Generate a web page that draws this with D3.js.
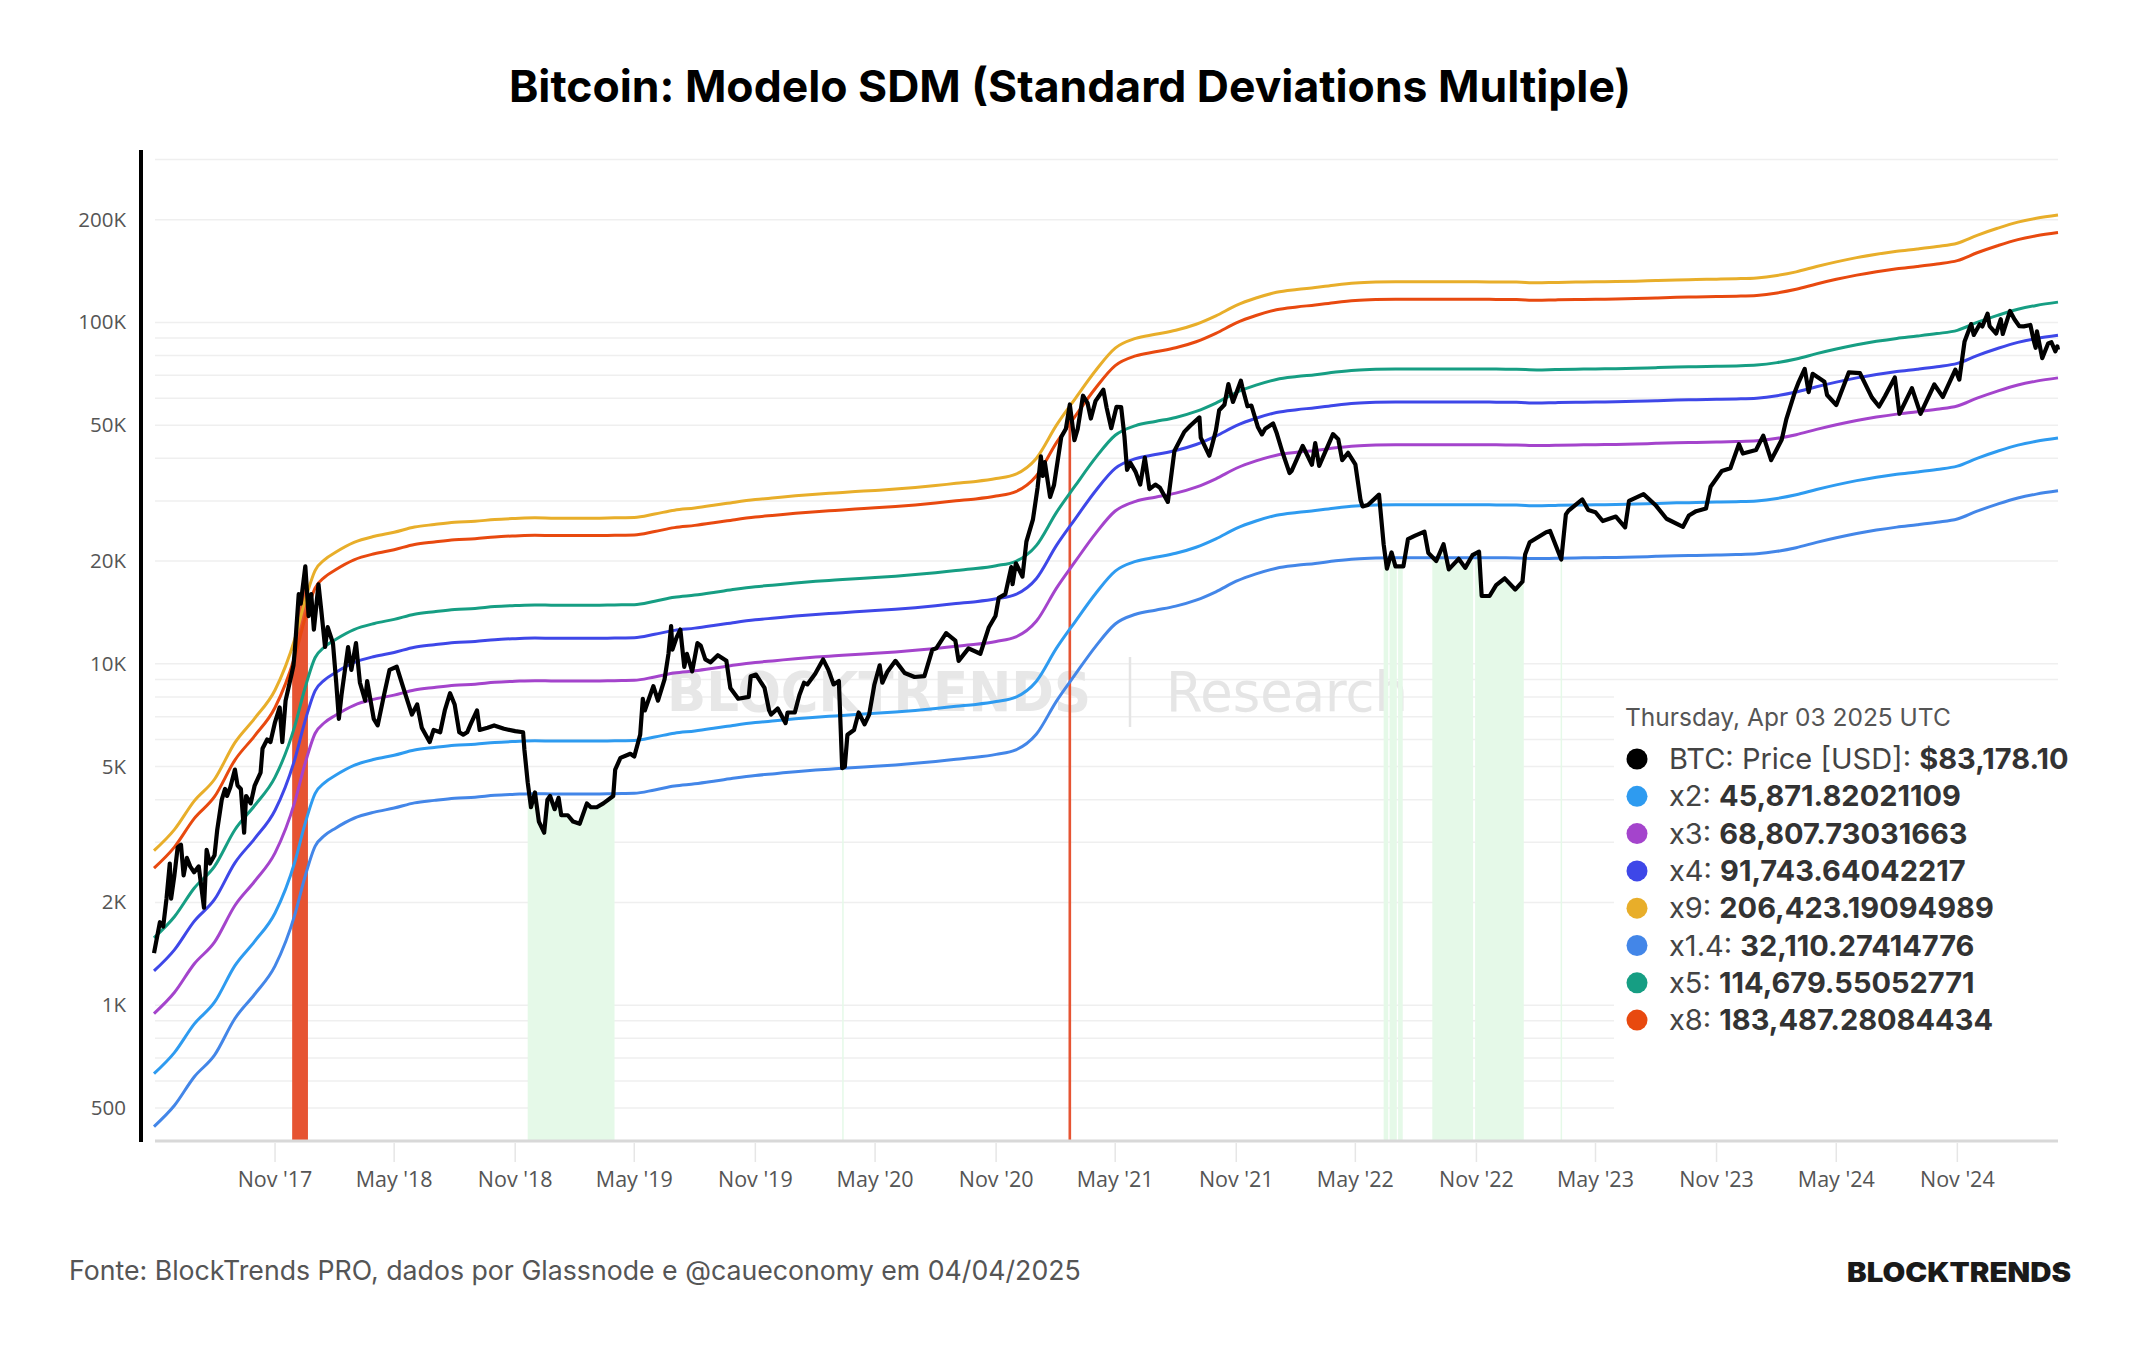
<!DOCTYPE html>
<html><head><meta charset="utf-8">
<script src="https://cdn.jsdelivr.net/npm/d3@7"></script>
<style>
html,body{margin:0;padding:0;background:#fff;}
svg{display:block;}
</style></head>
<body>
<svg id="chart" width="2144" height="1350"></svg>
<script>
// ---------------- DATA ----------------
const chartTitle = "Bitcoin: Modelo SDM (Standard Deviations Multiple)";
const sourceText = "Fonte: BlockTrends PRO, dados por Glassnode e @caueconomy em 04/04/2025";
const legendDate = "Thursday, Apr 03 2025 UTC";

// SDM base (x1), monthly
const sdmDates = ["2017-05-01","2017-06-01","2017-07-01","2017-08-01","2017-09-01","2017-10-01","2017-11-01","2017-12-01","2017-12-16",
"2018-01-01","2018-01-15","2018-02-01","2018-03-01","2018-04-01","2018-05-01","2018-06-01","2018-07-01","2018-08-01","2018-09-01","2018-10-01","2018-11-01","2018-12-01",
"2019-01-01","2019-02-01","2019-03-01","2019-04-01","2019-05-01","2019-06-01","2019-07-01","2019-08-01","2019-09-01","2019-10-01","2019-11-01","2019-12-01",
"2020-01-01","2020-02-01","2020-03-01","2020-04-01","2020-05-01","2020-06-01","2020-07-01","2020-08-01","2020-09-01","2020-10-01","2020-11-01","2020-12-01",
"2021-01-01","2021-02-01","2021-03-01","2021-04-01","2021-05-01","2021-06-01","2021-07-01","2021-08-01","2021-09-01","2021-10-01","2021-11-01","2021-12-01",
"2022-01-01","2022-02-01","2022-03-01","2022-04-01","2022-05-01","2022-06-01","2022-07-01","2022-08-01","2022-09-01","2022-10-01","2022-11-01","2022-12-01",
"2023-01-01","2023-02-01","2023-03-01","2023-04-01","2023-05-01","2023-06-01","2023-07-01","2023-08-01","2023-09-01","2023-10-01","2023-11-01","2023-12-01",
"2024-01-01","2024-02-01","2024-03-01","2024-04-01","2024-05-01","2024-06-01","2024-07-01","2024-08-01","2024-09-01","2024-10-01","2024-11-01","2024-12-01",
"2025-01-01","2025-02-01","2025-03-01","2025-04-03"];
const sdmBase = [315,363,440,510,653,769,931,1313,1684,
2087,2240,2357,2520,2626,2699,2795,2843,2886,2905,2942,2962,2975,
2968,2968,2968,2975,2981,3051,3132,3180,3241,3305,3363,3405,
3450,3488,3518,3550,3579,3611,3650,3697,3753,3802,3877,3994,
4439,5565,6637,8021,9343,9975,10254,10538,10975,11610,12466,13098,
13614,13880,14060,14306,14492,14585,14616,14616,14616,14616,14616,14600,
14585,14522,14554,14585,14616,14636,14681,14745,14806,14841,14880,14920,
15000,15252,15631,16202,16718,17201,17606,17959,18239,18549,18963,19998,
20973,21858,22434,22936];

// Bands (legend order)
const bandNames = ["x2","x3","x4","x9","x1.4","x5","x8"];
const bandMultiples = [2,3,4,9,1.4,5,8];
const bandColors = ["#2E9BF0","#A444CC","#3E47E8","#E8AE2A","#4386E8","#169E83","#E8490F"];
const legendValues = ["45,871.82021109","68,807.73031663","91,743.64042217","206,423.19094989","32,110.27414776","114,679.55052771","183,487.28084434"];
const priceLegendValue = "$83,178.10";

// BTC price (USD)
const btcPrice = [
["2017-05-01",1420],["2017-05-10",1750],["2017-05-15",1700],["2017-05-20",2050],["2017-05-25",2600],["2017-05-27",2050],["2017-06-01",2400],["2017-06-06",2900],["2017-06-11",2950],["2017-06-15",2400],["2017-06-20",2700],["2017-06-25",2550],
["2017-07-01",2450],["2017-07-08",2550],["2017-07-16",1930],["2017-07-20",2850],["2017-07-25",2600],["2017-08-01",2750],["2017-08-05",3250],["2017-08-12",4000],["2017-08-17",4300],["2017-08-20",4100],["2017-08-25",4350],
["2017-09-01",4900],["2017-09-05",4400],["2017-09-10",4300],["2017-09-15",3200],["2017-09-18",4100],["2017-09-25",3900],["2017-10-01",4400],["2017-10-10",4800],["2017-10-13",5650],["2017-10-20",6000],["2017-10-25",5900],
["2017-11-01",6750],["2017-11-08",7450],["2017-11-12",5900],["2017-11-17",7800],["2017-11-26",9300],["2017-11-29",9900],["2017-12-01",10900],["2017-12-07",16000],["2017-12-10",15000],["2017-12-17",19300],["2017-12-22",13800],["2017-12-26",16000],["2017-12-30",12600],
["2018-01-06",17100],["2018-01-10",14500],["2018-01-16",11200],["2018-01-20",12800],["2018-01-28",11500],["2018-02-02",8800],["2018-02-06",6900],["2018-02-10",8100],["2018-02-20",11200],["2018-02-25",9600],
["2018-03-04",11500],["2018-03-10",8800],["2018-03-18",7800],["2018-03-21",8900],["2018-03-31",6900],["2018-04-06",6600],["2018-04-15",8000],["2018-04-24",9600],["2018-05-05",9800],["2018-05-15",8500],["2018-05-28",7100],
["2018-06-05",7600],["2018-06-12",6500],["2018-06-24",5900],["2018-06-30",6400],["2018-07-10",6300],["2018-07-17",7300],["2018-07-25",8200],["2018-08-01",7600],["2018-08-08",6300],["2018-08-14",6200],["2018-08-20",6300],["2018-08-26",6700],
["2018-09-04",7300],["2018-09-08",6400],["2018-09-20",6500],["2018-09-30",6600],["2018-10-15",6450],["2018-11-01",6350],["2018-11-13",6300],["2018-11-15",5600],["2018-11-20",4500],["2018-11-25",3800],
["2018-12-01",4200],["2018-12-07",3450],["2018-12-15",3200],["2018-12-20",4000],["2018-12-24",4100],["2018-12-31",3750],
["2019-01-06",4050],["2019-01-10",3600],["2019-01-20",3600],["2019-01-28",3450],["2019-02-07",3400],["2019-02-18",3900],["2019-02-24",3800],["2019-03-05",3800],["2019-03-15",3900],["2019-03-30",4100],
["2019-04-02",4900],["2019-04-10",5300],["2019-04-25",5450],["2019-05-01",5350],["2019-05-10",6200],["2019-05-14",7900],["2019-05-17",7300],["2019-05-30",8600],["2019-06-06",7800],["2019-06-16",9000],["2019-06-22",10700],["2019-06-26",12900],["2019-06-28",11000],
["2019-07-04",11900],["2019-07-10",12600],["2019-07-16",9800],["2019-07-20",10700],["2019-07-28",9500],["2019-08-05",11500],["2019-08-10",11300],["2019-08-17",10300],["2019-08-25",10100],
["2019-09-05",10600],["2019-09-18",10200],["2019-09-24",8500],["2019-10-06",7900],["2019-10-22",8000],["2019-10-25",9200],["2019-11-02",9300],["2019-11-15",8500],["2019-11-22",7300],["2019-11-25",7100],
["2019-12-05",7400],["2019-12-17",6700],["2019-12-20",7200],["2019-12-31",7200],
["2020-01-07",8100],["2020-01-14",8800],["2020-01-19",8700],["2020-01-31",9350],["2020-02-12",10300],["2020-02-20",9600],["2020-02-28",8700],["2020-03-07",8900],["2020-03-12",4950],["2020-03-16",5000],["2020-03-20",6200],["2020-03-30",6400],
["2020-04-06",7200],["2020-04-15",6650],["2020-04-22",7100],["2020-04-30",8700],["2020-05-08",9900],["2020-05-12",8800],["2020-05-20",9500],["2020-06-01",10200],["2020-06-15",9400],["2020-06-30",9150],
["2020-07-15",9200],["2020-07-27",11000],["2020-08-02",11100],["2020-08-17",12300],["2020-08-31",11700],["2020-09-05",10200],["2020-09-20",11100],["2020-10-08",10700],["2020-10-21",12800],["2020-10-31",13800],
["2020-11-05",15600],["2020-11-15",16000],["2020-11-24",19200],["2020-11-26",17100],["2020-12-01",19700],["2020-12-11",18000],["2020-12-17",22800],["2020-12-27",26500],
["2021-01-03",32800],["2021-01-08",40500],["2021-01-11",35500],["2021-01-14",39000],["2021-01-22",30800],["2021-01-28",33400],["2021-02-08",46200],["2021-02-15",48800],["2021-02-21",57500],["2021-02-28",45200],
["2021-03-05",48800],["2021-03-13",61000],["2021-03-20",58000],["2021-03-25",52300],["2021-04-01",58800],["2021-04-13",63500],["2021-04-18",56200],["2021-04-25",49000],["2021-05-03",56600],["2021-05-10",56500],["2021-05-15",46400],["2021-05-19",37000],["2021-05-24",38800],
["2021-06-01",36500],["2021-06-08",33500],["2021-06-15",40200],["2021-06-22",32500],["2021-07-01",33500],["2021-07-08",32800],["2021-07-20",29800],["2021-07-30",42000],["2021-08-14",47800],["2021-08-23",49800],
["2021-09-06",52700],["2021-09-08",46000],["2021-09-21",40700],["2021-10-01",48200],["2021-10-06",55300],["2021-10-14",57400],["2021-10-20",66000],["2021-10-27",58500],["2021-11-08",67500],["2021-11-10",64900],["2021-11-18",56800],["2021-11-24",57100],
["2021-12-04",49300],["2021-12-10",47000],["2021-12-15",48800],["2021-12-27",50600],
["2022-01-01",47700],["2022-01-10",41800],["2022-01-21",36200],["2022-01-24",36700],["2022-02-10",43500],["2022-02-24",38300],["2022-03-01",44300],["2022-03-07",38000],["2022-03-28",47100],["2022-04-05",45500],["2022-04-11",39500],["2022-04-20",41500],
["2022-05-01",38400],["2022-05-09",30100],["2022-05-12",28900],["2022-05-20",29200],["2022-06-06",31300],["2022-06-13",22400],["2022-06-18",19000],["2022-06-25",21200],["2022-07-01",19300],["2022-07-13",19300],["2022-07-20",23200],["2022-07-30",23700],
["2022-08-14",24400],["2022-08-20",21100],["2022-09-01",20000],["2022-09-12",22400],["2022-09-20",18900],["2022-10-05",20300],["2022-10-15",19100],["2022-10-26",20800],["2022-11-05",21300],["2022-11-09",15800],["2022-11-21",15800],
["2022-12-01",17000],["2022-12-14",17800],["2022-12-30",16500],
["2023-01-10",17400],["2023-01-14",20900],["2023-01-21",22700],["2023-02-15",24300],["2023-02-21",24500],["2023-03-10",20200],["2023-03-17",27400],["2023-03-21",28100],["2023-04-11",30300],["2023-04-20",28200],
["2023-05-01",27800],["2023-05-12",26200],["2023-06-01",27000],["2023-06-15",25100],["2023-06-21",30000],["2023-07-13",31400],["2023-07-31",29200],["2023-08-17",26600],["2023-09-11",25200],["2023-09-20",27200],
["2023-10-01",28000],["2023-10-16",28500],["2023-10-23",33000],["2023-11-09",36700],["2023-11-22",37400],["2023-12-05",44000],["2023-12-11",41300],["2023-12-31",42300],
["2024-01-11",46600],["2024-01-23",39500],["2024-02-08",45300],["2024-02-15",52000],["2024-02-28",62500],["2024-03-05",67000],["2024-03-14",73100],["2024-03-20",62500],["2024-03-26",70700],["2024-04-13",67000],["2024-04-17",61300],
["2024-05-01",57300],["2024-05-20",71400],["2024-06-06",71000],["2024-06-24",60300],["2024-07-05",56700],["2024-07-14",60800],["2024-07-29",69000],["2024-08-05",54000],["2024-08-24",64200],["2024-09-06",54000],["2024-09-27",65800],
["2024-10-10",60500],["2024-10-29",72700],["2024-11-04",68000],["2024-11-12",88000],["2024-11-22",98900],["2024-11-26",91900],["2024-12-05",98800],["2024-12-09",97300],["2024-12-17",106100],["2024-12-20",97600],["2024-12-30",92800],
["2025-01-06",102200],["2025-01-09",92500],["2025-01-20",108000],["2025-01-27",102000],["2025-02-03",97600],["2025-02-10",97400],["2025-02-20",98300],["2025-02-25",88700],["2025-02-28",84300],
["2025-03-02",94200],["2025-03-10",78600],["2025-03-19",86800],["2025-03-24",87500],["2025-03-30",82300],["2025-04-02",85100],["2025-04-03",83178]
];

// Highlighted periods (price below x1.4 = green, above x8 = red)
const greenRanges = [["2018-11-20","2019-04-01"],["2020-03-12","2020-03-14"],["2022-06-13","2022-06-20"],["2022-06-22","2022-07-03"],["2022-07-05","2022-07-12"],["2022-08-26","2022-10-27"],["2022-10-30","2023-01-12"],["2023-03-09","2023-03-11"]];
const redRanges = [["2017-11-27","2017-12-21"],["2021-02-19","2021-02-23"]];

// Axes
const yTickValues = [500,1000,2000,5000,10000,20000,50000,100000,200000];
const yTickLabels = ["500","1K","2K","5K","10K","20K","50K","100K","200K"];
const xTickDates = ["2017-11-01","2018-05-01","2018-11-01","2019-05-01","2019-11-01","2020-05-01","2020-11-01","2021-05-01","2021-11-01","2022-05-01","2022-11-01","2023-05-01","2023-11-01","2024-05-01","2024-11-01"];
const xTickLabels = ["Nov '17","May '18","Nov '18","May '19","Nov '19","May '20","Nov '20","May '21","Nov '21","May '22","Nov '22","May '23","Nov '23","May '24","Nov '24"];

// ---------------- CHART ----------------
const parse = d3.utcParse("%Y-%m-%d");
const svg = d3.select("#chart");
svg.append("rect").attr("width",2144).attr("height",1350).attr("fill","#fff");

const x = d3.scaleUtc().domain([parse("2017-05-01"), parse("2025-04-03")]).range([154, 2058]);
const y = d3.scaleLog().domain([400, 320000]).range([1141, 150]);
const plotL = 155, plotR = 2058, plotB = 1141;

// grid lines (1..9 x 10^n)
const gridVals = [];
[100,1000,10000,100000].forEach(p => { for (let k=1;k<=9;k++){ const v=k*p; if (v>400 && v<=300000) gridVals.push(v);} });
svg.append("g").selectAll("line").data(gridVals).join("line")
  .attr("x1",plotL).attr("x2",plotR).attr("y1",d=>y(d)).attr("y2",d=>y(d))
  .attr("stroke","#efefef").attr("stroke-width",1.5);

// watermark
const wm = svg.append("g");
wm.append("text").attr("x",667).attr("y",711).text("BLOCKTRENDS")
  .attr("font-family","DejaVu Sans").attr("font-weight",700).attr("font-size",55)
  .attr("textLength",424).attr("lengthAdjust","spacingAndGlyphs").attr("fill","#e7e7e7");
wm.append("line").attr("x1",1130).attr("x2",1130).attr("y1",657).attr("y2",727).attr("stroke","#e5e5e5").attr("stroke-width",2.5);
wm.append("text").attr("x",1166).attr("y",711).text("Research")
  .attr("font-family","DejaVu Sans").attr("font-weight",400).attr("font-size",55)
  .attr("textLength",242).attr("lengthAdjust","spacingAndGlyphs").attr("fill","#e5e5e5");

const priceData = btcPrice.map(d => ({date: parse(d[0]), value: d[1]}));

// highlighted areas below price
const defs = svg.append("defs");
function makeClip(id, ranges){
  const cp = defs.append("clipPath").attr("id", id);
  ranges.forEach(r => {
    const x0 = x(parse(r[0])), x1 = x(parse(r[1]));
    cp.append("rect").attr("x", x0).attr("y", 0).attr("width", Math.max(1.5, x1 - x0)).attr("height", 1350);
  });
}
makeClip("greenClip", greenRanges);
makeClip("redClip", redRanges);
const area = d3.area().x(d => x(d.date)).y0(plotB).y1(d => y(d.value));
svg.append("path").datum(priceData).attr("d", area).attr("fill","#e5f9e8").attr("clip-path","url(#greenClip)");
svg.append("path").datum(priceData).attr("d", area).attr("fill","#e65432").attr("clip-path","url(#redClip)");

// SDM bands
const bandLine = d3.line().x(d => x(d[0])).y(d => y(d[1])).curve(d3.curveMonotoneX);
bandMultiples.forEach((m, i) => {
  const data = sdmDates.map((d, j) => [parse(d), sdmBase[j] * m]);
  svg.append("path").datum(data).attr("d", bandLine)
    .attr("fill","none").attr("stroke", bandColors[i]).attr("stroke-width", 3);
});

// price
const priceLine = d3.line().x(d => x(d.date)).y(d => y(d.value));
svg.append("path").datum(priceData).attr("d", priceLine)
  .attr("fill","none").attr("stroke","#000").attr("stroke-width",4.2).attr("stroke-linejoin","round");

// legend box
svg.append("rect").attr("x",1614).attr("y",686).attr("width",530).attr("height",440).attr("fill","#fff");
const lg = svg.append("g");
lg.append("text").attr("x",1625).attr("y",726).text(legendDate)
  .attr("font-family","Inter").attr("font-size",24.5).attr("fill","#555");
const legendRows = [{name:"BTC: Price [USD]", value: priceLegendValue, color:"#000"}]
  .concat(bandNames.map((n,i) => ({name:n, value: legendValues[i], color: bandColors[i]})));
legendRows.forEach((r, i) => {
  const cy = 759 + i * 37.3;
  lg.append("circle").attr("cx",1637).attr("cy",cy).attr("r",10.5).attr("fill", r.color);
  const t = lg.append("text").attr("x",1669).attr("y",cy + 10)
    .attr("font-family","Inter").attr("font-size",29).attr("fill","#444");
  t.append("tspan").text(r.name + ": ");
  t.append("tspan").attr("font-weight",650).attr("fill","#333").text(r.value);
});

// x axis
svg.append("line").attr("x1",plotL).attr("x2",plotR).attr("y1",plotB).attr("y2",plotB)
  .attr("stroke","#d8d8d8").attr("stroke-width",3);
const xAxis = svg.append("g");
xTickDates.forEach((d, i) => {
  const xx = x(parse(d));
  xAxis.append("line").attr("x1",xx).attr("x2",xx).attr("y1",1143).attr("y2",1162).attr("stroke","#e6e6e6").attr("stroke-width",1.5);
  xAxis.append("text").attr("x",xx).attr("y",1187).attr("text-anchor","middle")
    .attr("font-family","Open Sans").attr("font-size",21.5).attr("fill","#555").text(xTickLabels[i]);
});

// y axis
svg.append("line").attr("x1",141).attr("x2",141).attr("y1",150).attr("y2",1142)
  .attr("stroke","#000").attr("stroke-width",4);
const yAxis = svg.append("g");
yTickValues.forEach((v, i) => {
  yAxis.append("text").attr("x",126).attr("y",y(v) + 7).attr("text-anchor","end")
    .attr("font-family","Open Sans").attr("font-size",20.5).attr("fill","#555").text(yTickLabels[i]);
});

// title
svg.append("text").attr("x",1070).attr("y",102).attr("text-anchor","middle")
  .attr("font-family","Inter").attr("font-weight",700).attr("font-size",44.5).attr("fill","#000").text(chartTitle);

// footer
svg.append("text").attr("x",69).attr("y",1280).attr("font-family","Inter").attr("font-size",26.7).attr("fill","#555").text(sourceText);
svg.append("text").attr("x",1847).attr("y",1282).attr("font-family","Inter").attr("font-weight",900).attr("font-size",27)
  .attr("textLength",224).attr("lengthAdjust","spacingAndGlyphs").attr("fill","#1a1a1a").text("BLOCKTRENDS");
</script>
</body></html>
